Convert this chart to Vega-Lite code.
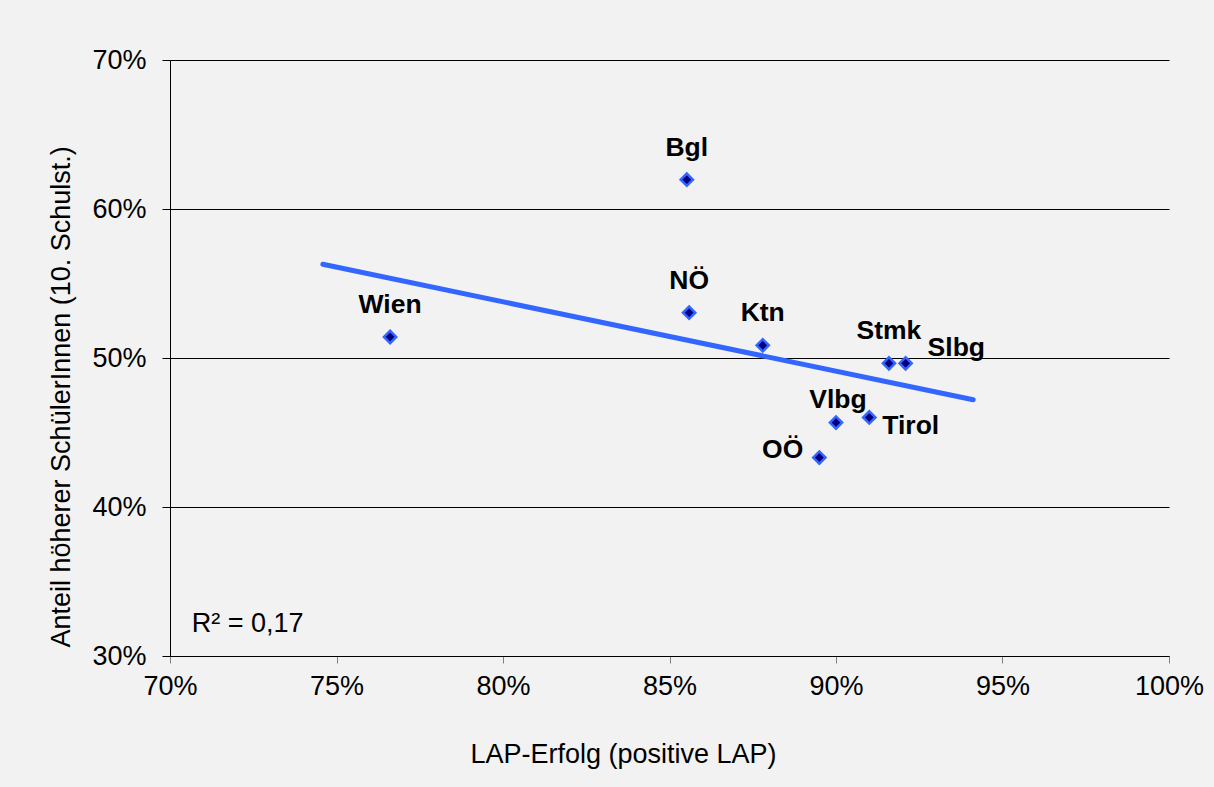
{
  "$schema": "https://vega.github.io/schema/vega-lite/v6.json",
  "width": 999,
  "height": 596,
  "autosize": {"type": "none"},
  "padding": {"left": 170, "top": 60, "right": 45, "bottom": 131},
  "background": "#f2f2f2",
  "config": {
    "view": {"stroke": null},
    "font": "Liberation Sans",
    "axis": {
      "labelFont": "Liberation Sans",
      "titleFont": "Liberation Sans",
      "labelColor": "#000000",
      "titleColor": "#000000",
      "labelFontSize": 27,
      "titleFontSize": 27,
      "titleFontWeight": "normal",
      "labelFlush": false,
      "labelOverlap": false,
      "domainColor": "#000000",
      "domainWidth": 1
    }
  },
  "datasets": {
    "laender": [
      {"land": "Bgl", "lap": 0.8552, "anteil": 0.6197},
      {"land": "NÖ", "lap": 0.8559, "anteil": 0.5304},
      {"land": "Wien", "lap": 0.7661, "anteil": 0.5141},
      {"land": "Ktn", "lap": 0.878, "anteil": 0.5085},
      {"land": "Stmk", "lap": 0.9159, "anteil": 0.4964},
      {"land": "Slbg", "lap": 0.9209, "anteil": 0.4964},
      {"land": "Vlbg", "lap": 0.9, "anteil": 0.4567},
      {"land": "Tirol", "lap": 0.91, "anteil": 0.4601},
      {"land": "OÖ", "lap": 0.895, "anteil": 0.4332}
    ],
    "trend": [
      {"lap": 0.7459, "anteil": 0.5629},
      {"lap": 0.9412, "anteil": 0.472}
    ],
    "annotation": [
      {"label": "R² = 0,17"}
    ]
  },
  "layer": [
    {
      "data": {"name": "trend"},
      "mark": {"type": "line", "color": "#3366ff", "strokeWidth": 5, "strokeCap": "round"},
      "encoding": {
        "x": {
          "field": "lap",
          "type": "quantitative",
          "scale": {"domain": [0.7, 1.0], "nice": false, "zero": false},
          "axis": {
            "values": [0.7, 0.75, 0.8, 0.85, 0.9, 0.95, 1.0],
            "format": ".0%",
            "grid": false,
            "tickColor": "#808080",
            "tickSize": 7,
            "labelPadding": 10,
            "title": "LAP-Erfolg (positive LAP)",
            "titleX": 453,
            "titleY": 106,
            "titleAlign": "center",
            "titleBaseline": "alphabetic"
          }
        },
        "y": {
          "field": "anteil",
          "type": "quantitative",
          "scale": {"domain": [0.3, 0.7], "nice": false, "zero": false},
          "axis": {
            "values": [0.3, 0.4, 0.5, 0.6, 0.7],
            "format": ".0%",
            "grid": true,
            "gridColor": "#000000",
            "gridWidth": 1,
            "tickColor": "#000000",
            "tickSize": 8,
            "labelPadding": 16,
            "title": "Anteil höherer SchülerInnen (10. Schulst.)",
            "titleAngle": -90,
            "titleX": -101,
            "titleY": 587,
            "titleAlign": "left",
            "titleBaseline": "alphabetic"
          }
        }
      }
    },
    {
      "data": {"name": "laender"},
      "mark": {"type": "point", "shape": "diamond", "filled": true, "fill": "#000080", "stroke": "#3366ff", "strokeWidth": 2.5, "size": 150, "opacity": 1},
      "encoding": {
        "x": {"field": "lap", "type": "quantitative"},
        "y": {"field": "anteil", "type": "quantitative"}
      }
    },
    {
      "data": {"name": "laender"},
      "transform": [{"filter": {"field": "land", "oneOf": ["Bgl", "NÖ", "Wien", "Ktn", "Stmk"]}}],
      "mark": {"type": "text", "fontSize": 26.5, "fontWeight": "bold", "color": "#000000", "align": "center", "baseline": "alphabetic", "dy": -24},
      "encoding": {
        "x": {"field": "lap", "type": "quantitative"},
        "y": {"field": "anteil", "type": "quantitative"},
        "text": {"field": "land"}
      }
    },
    {
      "data": {"name": "laender"},
      "transform": [{"filter": {"field": "land", "equal": "Vlbg"}}],
      "mark": {"type": "text", "fontSize": 26.5, "fontWeight": "bold", "color": "#000000", "align": "center", "baseline": "alphabetic", "dx": 2, "dy": -15},
      "encoding": {
        "x": {"field": "lap", "type": "quantitative"},
        "y": {"field": "anteil", "type": "quantitative"},
        "text": {"field": "land"}
      }
    },
    {
      "data": {"name": "laender"},
      "transform": [{"filter": {"field": "land", "equal": "Slbg"}}],
      "mark": {"type": "text", "fontSize": 26.5, "fontWeight": "bold", "color": "#000000", "align": "left", "baseline": "alphabetic", "dx": 22, "dy": -7},
      "encoding": {
        "x": {"field": "lap", "type": "quantitative"},
        "y": {"field": "anteil", "type": "quantitative"},
        "text": {"field": "land"}
      }
    },
    {
      "data": {"name": "laender"},
      "transform": [{"filter": {"field": "land", "equal": "Tirol"}}],
      "mark": {"type": "text", "fontSize": 26.5, "fontWeight": "bold", "color": "#000000", "align": "left", "baseline": "alphabetic", "dx": 13, "dy": 17},
      "encoding": {
        "x": {"field": "lap", "type": "quantitative"},
        "y": {"field": "anteil", "type": "quantitative"},
        "text": {"field": "land"}
      }
    },
    {
      "data": {"name": "laender"},
      "transform": [{"filter": {"field": "land", "equal": "OÖ"}}],
      "mark": {"type": "text", "fontSize": 26.5, "fontWeight": "bold", "color": "#000000", "align": "right", "baseline": "alphabetic", "dx": -16, "dy": 0},
      "encoding": {
        "x": {"field": "lap", "type": "quantitative"},
        "y": {"field": "anteil", "type": "quantitative"},
        "text": {"field": "land"}
      }
    },
    {
      "data": {"name": "annotation"},
      "mark": {"type": "text", "fontSize": 27, "color": "#000000", "align": "left", "baseline": "alphabetic"},
      "encoding": {
        "x": {"datum": 0.7065, "type": "quantitative"},
        "y": {"datum": 0.3163, "type": "quantitative"},
        "text": {"field": "label"}
      }
    }
  ]
}
